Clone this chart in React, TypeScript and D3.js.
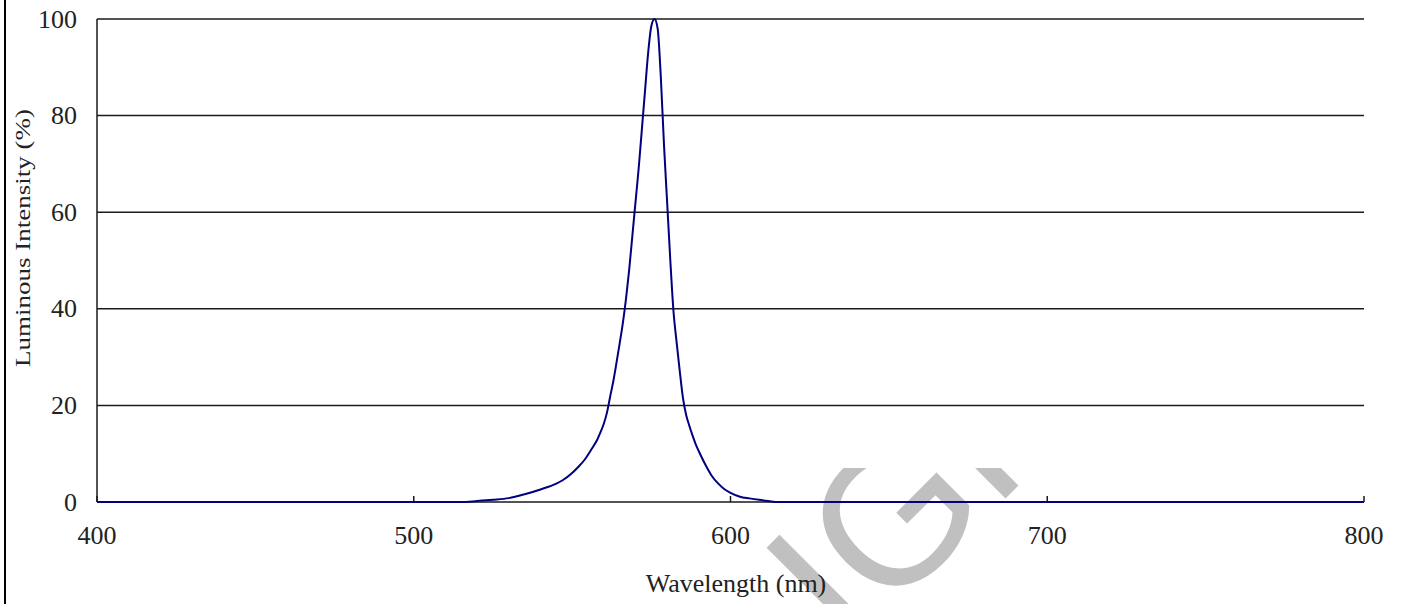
import React from 'react';
import * as d3 from 'd3';

// Spectrum (nm, % relative intensity)
const wavelengths = [400, 450, 500, 515, 520, 525, 530, 535, 540, 545, 547, 550, 552, 554, 556, 558, 559, 560, 561, 562, 563, 564, 565, 566, 567, 568, 569, 570, 571, 572, 573, 574, 575, 576, 577, 578, 579, 580, 581, 582, 583, 584, 585, 586, 587, 588, 589, 590, 592, 594, 596, 598, 600, 603, 606, 609, 612, 615, 650, 700, 750, 800];
const intensity = [0, 0, 0, 0, 0.2, 0.45, 0.8, 1.6, 2.6, 3.8, 4.5, 6.0, 7.3, 8.8, 10.8, 13, 14.5, 16.2, 18.5, 21.8, 25, 28.8, 32.8, 37, 42, 48, 55, 62, 69, 77, 85, 93, 98.5, 100, 98, 88, 74, 62, 50, 39.5, 33, 27, 21.5, 18, 15.8, 13.8, 12, 10.5, 7.8, 5.5, 3.9, 2.7, 1.9, 1.1, 0.75, 0.45, 0.2, 0, 0, 0, 0, 0];

const xTicks = [400, 500, 600, 700, 800];
const yTicks = [0, 20, 40, 60, 80, 100];

const xTitle = 'Wavelength (nm)';
const yTitle = 'Luminous Intensity (%)';
const watermark = 'LIGHT';

const W = 1404;
const H = 604;
const margin = { top: 19, right: 40, bottom: 102, left: 97 };

export default function App() {
  const innerW = W - margin.left - margin.right;
  const innerH = H - margin.top - margin.bottom;

  const x = d3.scaleLinear().domain([400, 800]).range([0, innerW]);
  const y = d3.scaleLinear().domain([0, 100]).range([innerH, 0]);

  const points = wavelengths.map((w, i) => [w, intensity[i]] as [number, number]);
  const line = d3.line<[number, number]>()
    .x(d => x(d[0]))
    .y(d => y(d[1]))
    .curve(d3.curveMonotoneX);

  const serif = '"Liberation Serif", "Times New Roman", serif';

  return (
    <svg width={W} height={H} style={{ position: 'absolute', left: 0, top: 0, background: '#fff' }}>
      <defs>
        <clipPath id="wmClip">
          <rect x={0} y={468} width={W} height={H - 468} />
        </clipPath>
      </defs>

      {/* watermark, only the lower part shows */}
      <g clipPath="url(#wmClip)">
        <text transform="translate(772, 732) rotate(-45)" fontFamily='"Liberation Sans", Arial, sans-serif'
          fontSize={195} fill="#c0c0c0">{watermark}</text>
      </g>

      {/* left page border */}
      <line x1={5} y1={0} x2={5} y2={H} stroke="#000" strokeWidth={2} />

      <g transform={`translate(${margin.left}, ${margin.top})`}>
        {/* horizontal grid */}
        {yTicks.map(t => (
          <g key={t}>
            <line x1={0} x2={innerW} y1={y(t)} y2={y(t)} stroke="#1a1a1a" strokeWidth={1.5} />
            <text x={-20} y={y(t)} textAnchor="end" dominantBaseline="central"
              fontFamily={serif} fontSize={26} fill="#222">{t}</text>
          </g>
        ))}

        {/* y axis */}
        <line x1={0} x2={0} y1={0} y2={innerH} stroke="#1a1a1a" strokeWidth={1.5} />

        {/* x ticks */}
        {xTicks.map(t => (
          <g key={t}>
            <line x1={x(t)} x2={x(t)} y1={innerH - 6} y2={innerH} stroke="#1a1a1a" strokeWidth={1.5} />
            <text x={x(t)} y={innerH + 33} textAnchor="middle" dominantBaseline="central"
              fontFamily={serif} fontSize={26} fill="#222">{t}</text>
          </g>
        ))}

        {/* spectrum */}
        <path d={line(points) ?? ''} fill="none" stroke="#000080" strokeWidth={2} />
      </g>

      {/* axis titles */}
      <text x={736} y={583} textAnchor="middle" dominantBaseline="central"
        fontFamily={serif} fontSize={26} fill="#222">{xTitle}</text>
      <text transform="translate(23, 238) rotate(-90)" textAnchor="middle" dominantBaseline="central"
        fontFamily={serif} fontSize={21} fill="#222" textLength={258} lengthAdjust="spacingAndGlyphs">{yTitle}</text>
    </svg>
  );
}
